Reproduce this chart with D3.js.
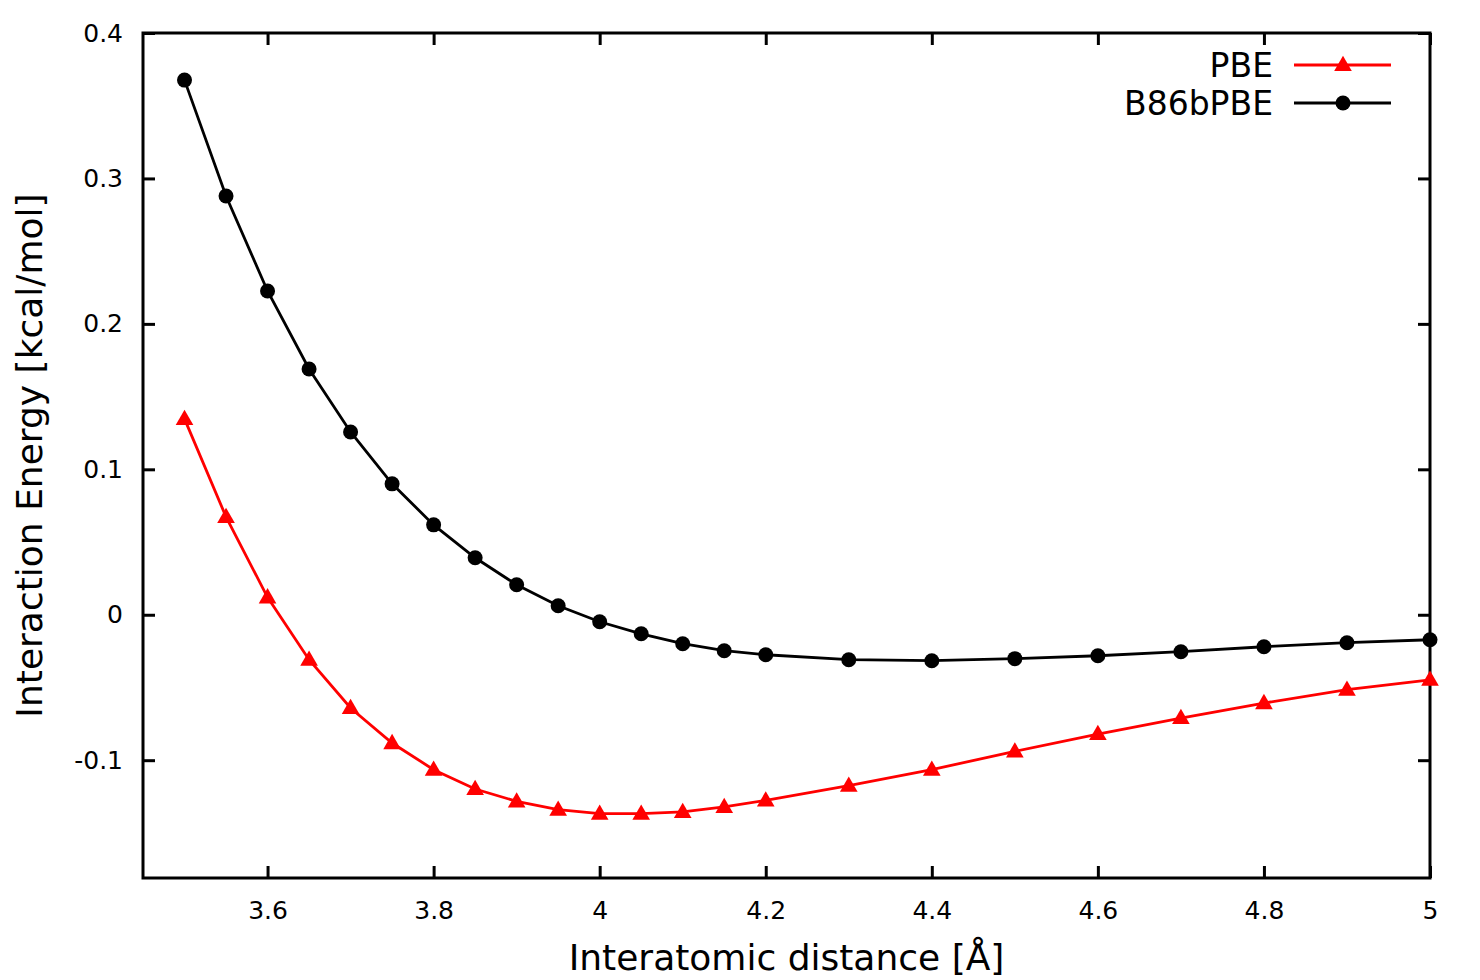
<!DOCTYPE html>
<html>
<head>
<meta charset="utf-8">
<script src="https://cdn.jsdelivr.net/npm/d3@7"></script>
<style>
  body { margin: 0; background: #fff; }
  text { font-family: "DejaVu Sans", sans-serif; fill: #000; }
</style>
</head>
<body>
<script>
// distances in Angstrom
var distance = [3.5, 3.55, 3.6, 3.65, 3.7, 3.75, 3.8, 3.85, 3.9, 3.95, 4.0, 4.05,
  4.1, 4.15, 4.2, 4.3, 4.4, 4.5, 4.6, 4.7, 4.8, 4.9, 5.0];

var pbe = [0.1347, 0.0673, 0.0120, -0.0309, -0.0641, -0.0882, -0.1065, -0.1198,
  -0.1283, -0.1340, -0.1367, -0.1367, -0.1356, -0.1321, -0.1276, -0.1175,
  -0.1065, -0.0939, -0.0820, -0.0710, -0.0607, -0.0515, -0.0447];

var b86bpbe = [0.3676, 0.2879, 0.2226, 0.1690, 0.1257, 0.0900, 0.0618, 0.0392,
  0.0206, 0.0062, -0.0048, -0.0131, -0.0199, -0.0247, -0.0275, -0.0309,
  -0.0316, -0.0302, -0.0282, -0.0254, -0.0220, -0.0192, -0.0172];

var xTicks = [3.6, 3.8, 4.0, 4.2, 4.4, 4.6, 4.8, 5.0];
var yTicks = [-0.1, 0, 0.1, 0.2, 0.3, 0.4];

var width = 1480;
var height = 980;
var pLeft = 143, pRight = 1430, pTop = 33, pBottom = 878;

var svg = d3.select('body').append('svg')
  .attr('width', width)
  .attr('height', height);

var x = d3.scaleLinear().domain([3.45, 5]).range([pLeft, pRight]);
var y = d3.scaleLinear().domain([-0.181, 0.4]).range([pBottom, pTop]);

var fmt = function(d) { return d === 0 ? '0' : String(+d.toFixed(1)); };
var tickLen = 12;

// bottom + top axes (ticks inward)
var xb = svg.append('g').attr('transform', 'translate(0,' + pBottom + ')')
  .call(d3.axisBottom(x).tickValues(xTicks).tickFormat(fmt).tickSizeInner(-tickLen).tickSizeOuter(0).tickPadding(tickLen + 11));
var xt = svg.append('g').attr('transform', 'translate(0,' + pTop + ')')
  .call(d3.axisTop(x).tickValues(xTicks).tickFormat('').tickSizeInner(-tickLen).tickSizeOuter(0));
var yl = svg.append('g').attr('transform', 'translate(' + pLeft + ',0)')
  .call(d3.axisLeft(y).tickValues(yTicks).tickFormat(fmt).tickSizeInner(-tickLen).tickSizeOuter(0).tickPadding(tickLen + 8));
var yr = svg.append('g').attr('transform', 'translate(' + pRight + ',0)')
  .call(d3.axisRight(y).tickValues(yTicks).tickFormat('').tickSizeInner(-tickLen).tickSizeOuter(0));

[xb, xt, yl, yr].forEach(function(g) {
  g.select('.domain').remove();
  g.selectAll('.tick line').attr('stroke', '#000').attr('stroke-width', 3);
  g.selectAll('.tick text').style('font-size', '25px').style('font-family', '"DejaVu Sans", sans-serif').attr('fill', '#000');
});

svg.append('rect')
  .attr('x', pLeft).attr('y', pTop)
  .attr('width', pRight - pLeft).attr('height', pBottom - pTop)
  .attr('fill', 'none').attr('stroke', '#000').attr('stroke-width', 3);

var line = d3.line()
  .x(function(d) { return x(d[0]); })
  .y(function(d) { return y(d[1]); });

var series = [
  { name: 'PBE', values: pbe, color: '#ff0000', marker: 'tri' },
  { name: 'B86bPBE', values: b86bpbe, color: '#000000', marker: 'circ' }
];

var tri = d3.symbol().type(d3.symbolTriangle).size(135);

series.forEach(function(s) {
  var pts = distance.map(function(d, i) { return [d, s.values[i]]; });
  svg.append('path')
    .attr('d', line(pts))
    .attr('fill', 'none')
    .attr('stroke', s.color)
    .attr('stroke-width', 2.8);
  if (s.marker === 'circ') {
    svg.selectAll(null).data(pts).enter().append('circle')
      .attr('cx', function(d) { return x(d[0]); })
      .attr('cy', function(d) { return y(d[1]); })
      .attr('r', 7.5)
      .attr('fill', s.color);
  } else {
    svg.selectAll(null).data(pts).enter().append('path')
      .attr('d', tri)
      .attr('transform', function(d) { return 'translate(' + x(d[0]) + ',' + (y(d[1]) + 1) + ')'; })
      .attr('fill', s.color);
  }
});

// legend
var legY = [65, 103];
series.forEach(function(s, i) {
  var g = svg.append('g').attr('transform', 'translate(0,' + legY[i] + ')');
  g.append('text')
    .attr('x', 1273).attr('y', 0).attr('dy', '0.36em')
    .attr('text-anchor', 'end')
    .style('font-size', '33px')
    .text(s.name);
  g.append('line')
    .attr('x1', 1294).attr('x2', 1391)
    .attr('stroke', s.color).attr('stroke-width', 2.8);
  if (s.marker === 'circ') {
    g.append('circle').attr('cx', 1343).attr('cy', 0).attr('r', 7.5).attr('fill', s.color);
  } else {
    g.append('path').attr('d', tri).attr('transform', 'translate(1343,1)').attr('fill', s.color);
  }
});

// axis titles
svg.append('text')
  .attr('x', (pLeft + pRight) / 2).attr('y', 970)
  .attr('text-anchor', 'middle')
  .style('font-size', '36px')
  .text('Interatomic distance [Å]');

svg.append('text')
  .attr('transform', 'translate(42,' + ((pTop + pBottom) / 2) + ') rotate(-90)')
  .attr('text-anchor', 'middle')
  .style('font-size', '36px')
  .text('Interaction Energy [kcal/mol]');
</script>
</body>
</html>
